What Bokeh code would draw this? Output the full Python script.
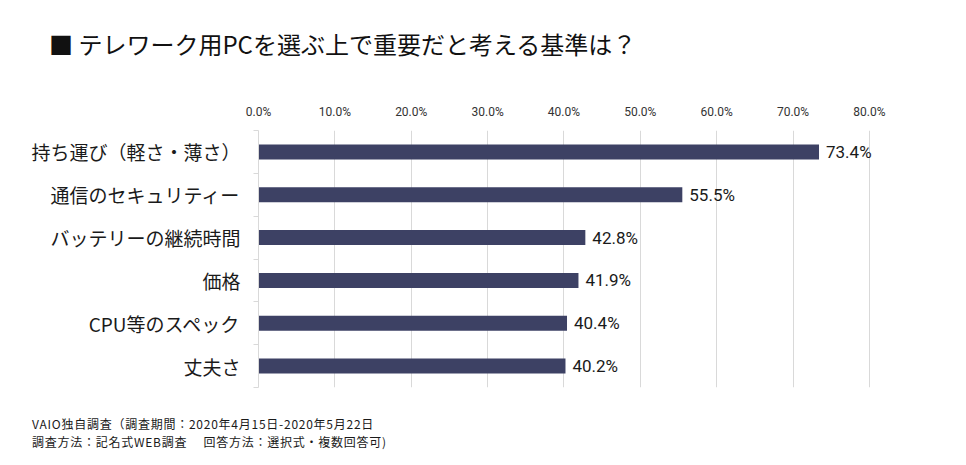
from bokeh.plotting import figure
from bokeh.models import (Range1d, FixedTicker, PrintfTickFormatter,
                          LabelSet, ColumnDataSource, Div)
from bokeh.layouts import column
from bokeh.embed import file_html
from bokeh.resources import INLINE
from bokeh.core.properties import value

# ---- data ----
categories = ["持ち運び（軽さ・薄さ）", "通信のセキュリティー", "バッテリーの継続時間",
              "価格", "CPU等のスペック", "丈夫さ"]
values = [73.4, 55.5, 42.8, 41.9, 40.4, 40.2]
x_ticks = [0, 10, 20, 30, 40, 50, 60, 70, 80]
title_text = "■ テレワーク用PCを選ぶ上で重要だと考える基準は？"
notes = ["VAIO独自調査（調査期間：2020年4月15日-2020年5月22日",
         "調査方法：記名式WEB調査　 回答方法：選択式・複数回答可)"]

JP = "Noto Sans CJK JP"
NUM = "Roboto"
BAR = "#3d4164"
GRID = "#d9d9d9"
W = 950

n = len(categories)
ys = [i + 0.5 for i in range(n)]
src = ColumnDataSource(dict(y=ys, v=values, lab=[f"{v:.1f}%" for v in values]))

title_div = Div(
    text=(f'<div style="padding:32px 0 0 49px;font-family:\'{JP}\';font-size:24px;'
          f'line-height:24px;color:#111111;white-space:nowrap;">{title_text}</div>'),
    width=W, height=88, margin=0)

p = figure(width=W, height=317, output_backend="svg", toolbar_location=None,
           x_range=Range1d(0, 88), y_range=Range1d(n, 0),
           x_axis_location="above",
           min_border_left=258, min_border_right=20,
           min_border_top=42, min_border_bottom=18, margin=0)
p.outline_line_color = None
p.background_fill_color = "white"
p.border_fill_color = "white"

p.hbar(y="y", left=0, right="v", height=0.35, source=src,
       fill_color=BAR, line_color=None)

labels = LabelSet(x="v", y="y", text="lab", source=src, x_offset=7,
                  text_baseline="middle", text_align="left",
                  text_font=value(NUM), text_font_size="17px",
                  text_color="#1a1a1a")
p.add_layout(labels)

# x axis (top)
xa = p.xaxis[0]
xa.ticker = FixedTicker(ticks=x_ticks)
xa.formatter = PrintfTickFormatter(format="%.1f%%")
xa.axis_line_color = None
xa.major_tick_line_color = None
xa.minor_tick_line_color = None
xa.major_tick_out = 0
xa.major_tick_in = 0
xa.major_label_standoff = 12
xa.major_label_text_font = NUM
xa.major_label_text_font_size = "12px"
xa.major_label_text_color = "#333333"

# y axis (left) with category separators as minor ticks
ya = p.yaxis[0]
ya.ticker = FixedTicker(ticks=ys, minor_ticks=list(range(n + 1)))
ya.major_label_overrides = {y: c for y, c in zip(ys, categories)}
ya.axis_line_color = GRID
ya.major_tick_line_color = None
ya.major_tick_out = 0
ya.major_tick_in = 0
ya.minor_tick_line_color = GRID
ya.minor_tick_out = 5
ya.minor_tick_in = 0
ya.major_label_standoff = 13
ya.major_label_text_font = JP
ya.major_label_text_font_size = "19px"
ya.major_label_text_color = "#1a1a1a"

p.xgrid.grid_line_color = GRID
p.xgrid.ticker = FixedTicker(ticks=x_ticks)
p.ygrid.grid_line_color = None

notes_html = "<br>".join(notes)
notes_div = Div(
    text=(f'<div style="padding:10px 0 0 32px;font-family:\'{JP}\';font-size:12px;'
          f'letter-spacing:0.75px;line-height:18px;color:#1a1a1a;white-space:nowrap;">'
          f'{notes_html}</div>'),
    width=W, height=50, margin=0)

layout = column(title_div, p, notes_div, spacing=0, margin=0)

open("out.html", "w").write(file_html(layout, INLINE))
